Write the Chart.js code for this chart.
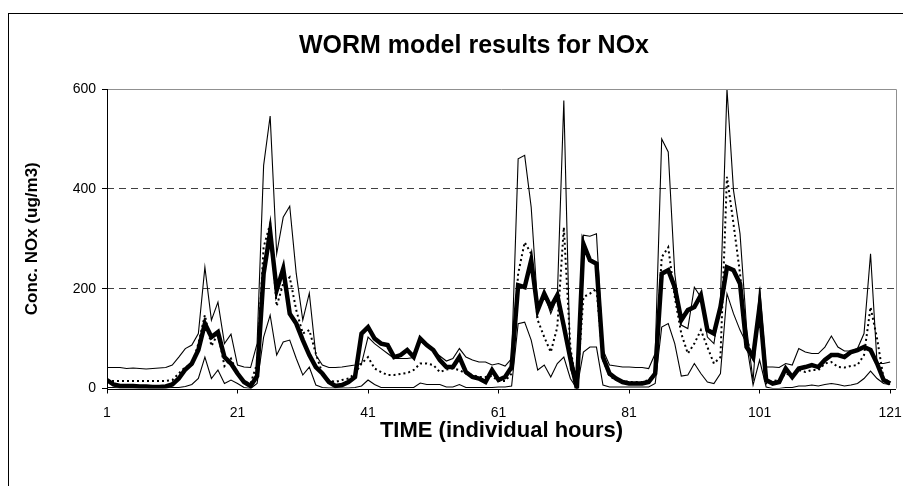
<!DOCTYPE html>
<html><head><meta charset="utf-8">
<script src="https://cdn.jsdelivr.net/npm/chart.js@4.4.0/dist/chart.umd.min.js"></script>
<style>html,body{margin:0;padding:0;background:#fff;}canvas{display:block;}</style>
</head><body>
<canvas id="c" width="903" height="486"></canvas>
<script>
const hours = Array.from({length:121},(_,i)=>i+1);
const xTicks = [1,21,41,61,81,101,121];
const yTicks = [0,200,400,600];
const chartTitle = 'WORM model results for NOx';
const xTitle = 'TIME (individual hours)';
const yTitle = 'Conc. NOx (ug/m3)';

const thick = [17,8,5,5,5,4,4,3,3,4,
 8,20,38,50,77,130,103,113,63,50,
 30,13,5,25,230,314,197,240,150,130,
 97,67,43,30,13,5,7,13,23,110,
 123,100,90,87,63,67,77,63,100,87,
 77,57,43,43,63,33,23,20,13,37,
 17,23,43,207,203,257,157,190,163,187,
 125,60,0,290,257,250,63,30,20,13,
 10,10,10,13,30,230,237,203,137,157,
 163,187,117,110,163,243,237,210,83,63,
 165,17,10,13,40,23,40,43,47,43,
 57,67,67,63,73,77,83,77,50,17,
 10];
const upper = [42,42,42,40,41,40,39,40,41,42,
 47,63,80,87,110,243,137,173,90,109,
 47,43,42,90,447,546,270,343,365,230,
 137,191,67,47,42,42,43,45,47,50,
 103,90,80,70,60,60,60,62,95,85,
 75,65,55,60,80,63,57,53,53,47,
 50,45,60,460,467,363,163,190,150,183,
 577,40,3,307,305,310,77,47,45,43,
 43,42,42,40,70,500,474,230,127,120,
 203,183,103,90,177,600,397,310,123,15,
 202,43,43,42,50,47,80,73,70,70,
 83,105,83,75,75,80,110,270,50,50,
 53];
const lower = [2,2,1,1,1,1,1,1,1,1,
 2,2,4,8,20,63,20,37,10,17,
 10,2,0,10,103,147,67,93,97,60,
 27,43,7,2,1,1,1,1,2,5,
 17,8,2,2,2,2,2,2,11,8,
 8,8,3,3,8,2,2,2,2,2,
 3,3,5,130,133,97,37,47,23,50,
 63,20,0,73,83,83,7,3,3,3,
 3,3,3,3,10,123,130,90,25,27,
 50,30,13,10,30,190,150,117,90,7,
 57,3,0,0,2,2,5,5,7,5,
 8,10,8,5,7,10,20,35,20,10,
 8];
const dotted = [15,15,15,15,15,15,15,15,15,15,
 17,30,43,47,90,147,85,110,45,60,
 30,13,10,50,283,330,165,210,223,157,
 110,117,70,30,17,13,17,20,30,50,
 63,40,33,27,27,29,31,37,50,50,
 47,33,38,40,37,30,27,23,23,25,
 15,15,30,230,293,270,137,103,73,123,
 323,83,0,183,190,200,57,25,17,15,
 13,13,13,17,30,263,283,183,110,70,
 90,117,83,50,63,424,330,230,100,60,
 150,10,15,17,30,25,37,33,37,37,
 50,53,43,42,45,47,67,163,100,20,
 13];

const FONT = "'Liberation Sans', Arial, sans-serif";
const pts = arr => hours.map((h,i)=>({x:h,y:arr[i]}));

const framePlugin = {
  id:'frame',
  afterDraw(chart){
    const {ctx, chartArea:a} = chart;
    ctx.save();
    ctx.lineWidth = 1;
    ctx.strokeStyle = '#909090';
    ctx.beginPath();
    ctx.moveTo(a.left, Math.round(a.top)+0.5);
    ctx.lineTo(Math.round(a.right)+0.5, Math.round(a.top)+0.5);
    ctx.lineTo(Math.round(a.right)+0.5, a.bottom);
    ctx.stroke();
    ctx.strokeStyle = '#000';
    ctx.beginPath();
    ctx.moveTo(Math.round(a.left)+0.5, a.top);
    ctx.lineTo(Math.round(a.left)+0.5, Math.round(a.bottom)+0.5);
    ctx.lineTo(a.right, Math.round(a.bottom)+0.5);
    ctx.stroke();
    ctx.strokeRect(8.5, 13.5, 1000, 1000);
    ctx.fillStyle = '#000';
    ctx.font = 'bold 25px ' + FONT;
    ctx.textAlign = 'center';
    ctx.textBaseline = 'middle';
    ctx.fillText(chartTitle, 474, 46);
    ctx.restore();
  }
};

const base = {pointRadius:0, pointHoverRadius:0, tension:0, fill:false, borderColor:'#000', borderJoinStyle:'miter'};

new Chart(document.getElementById('c'), {
  type:'line',
  data:{datasets:[
    Object.assign({label:'thick', data:pts(thick), borderWidth:4.5}, base),
    Object.assign({label:'dotted', data:pts(dotted), borderWidth:2, borderDash:[2,3]}, base),
    Object.assign({label:'upper', data:pts(upper), borderWidth:1.1}, base),
    Object.assign({label:'lower', data:pts(lower), borderWidth:1.1}, base)
  ]},
  options:{
    responsive:false, animation:false, devicePixelRatio:1,
    layout:{padding:{left:0,right:7,top:89,bottom:0}},
    plugins:{legend:{display:false}, tooltip:{enabled:false}, title:{display:false}},
    scales:{
      x:{type:'linear', min:1, max:121.9,
        afterBuildTicks:s=>{s.ticks = xTicks.map(v=>({value:v}));},
        afterFit:s=>{s.height = 97.5; s.paddingLeft = 0; s.paddingRight = 0;},
        grid:{drawOnChartArea:false, drawTicks:true, tickLength:5, tickColor:'#000'},
        border:{display:false},
        ticks:{color:'#000', font:{family:FONT, size:14}, padding:11, maxRotation:0, autoSkip:false},
        title:{display:true, text:xTitle, color:'#000',
          font:{family:FONT, size:22, weight:'bold'}, padding:{top:0,bottom:42}}
      },
      y:{type:'linear', min:0, max:600,
        afterBuildTicks:s=>{s.ticks = yTicks.map(v=>({value:v}));},
        afterFit:s=>{s.width = 107; s.paddingTop = 0; s.paddingBottom = 0;},
        grid:{drawTicks:true, tickLength:5, tickColor:'#000', tickBorderDash:[],
          color:c=>(c.tick && (c.tick.value===200||c.tick.value===400))?'#404040':'rgba(0,0,0,0)', lineWidth:1},
        border:{display:false, dash:[7,5]},
        ticks:{color:'#000', font:{family:FONT, size:14}, padding:6},
        title:{display:true, text:yTitle, color:'#000',
          font:{family:FONT, size:17, weight:'bold'}, padding:{top:22,bottom:0}}
      }
    }
  },
  plugins:[framePlugin]
});
</script>
</body></html>
